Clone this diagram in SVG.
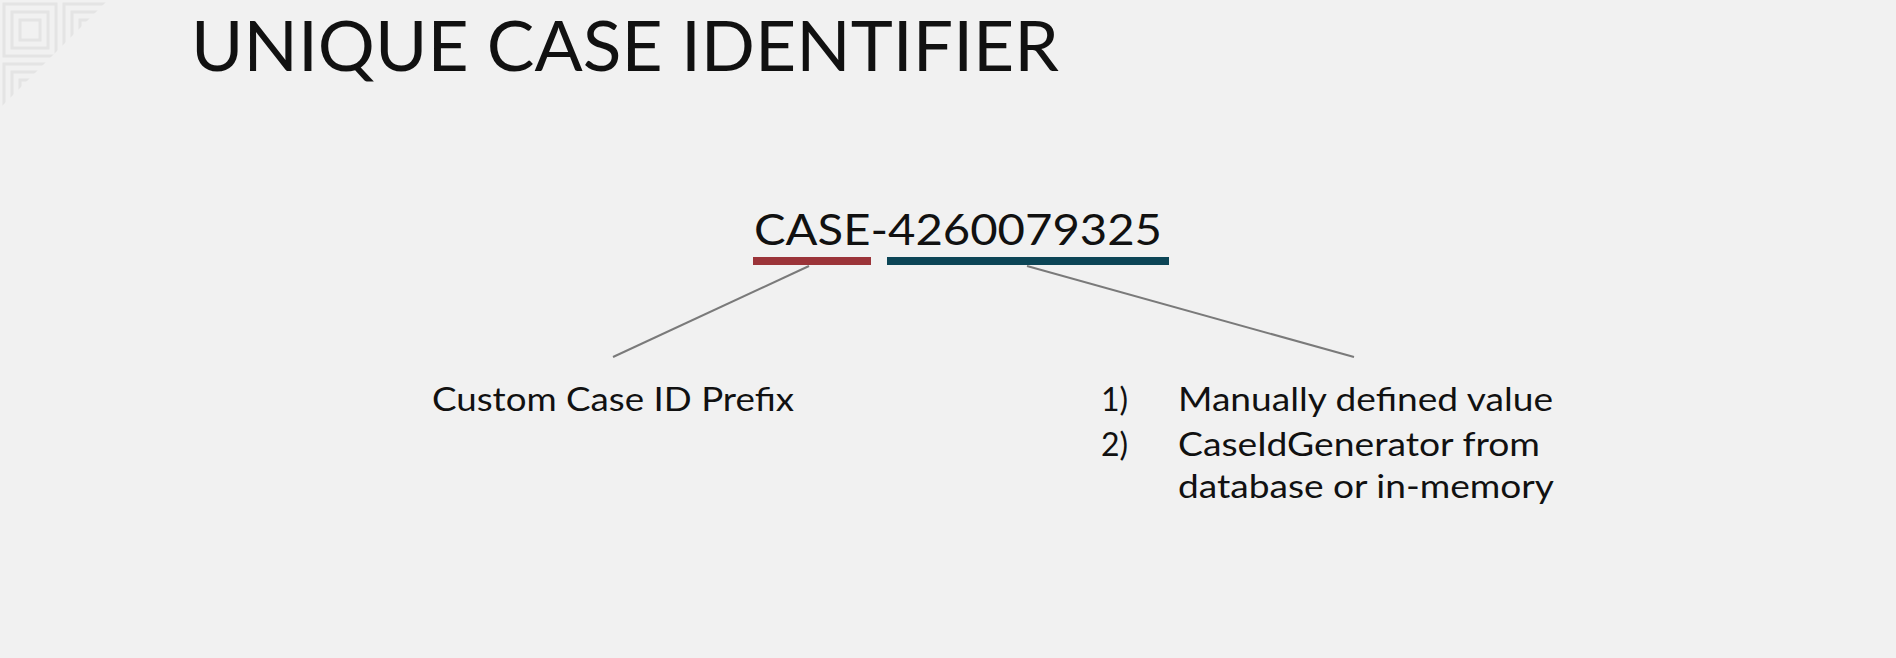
<svg xmlns="http://www.w3.org/2000/svg" width="1896" height="658" viewBox="0 0 1896 658">
<defs>
<style>
.t{font-family:Lato,"Liberation Sans",sans-serif;fill:#111;}
.conn{stroke:#7a7a7a;stroke-width:2;fill:none;}
.pat{stroke:#e4e4e4;stroke-width:3;fill:none;}
</style>
<clipPath id="corner"><polygon points="0,0 108,0 0,108"/></clipPath>
<pattern id="sq" x="0" y="0" width="60" height="60" patternUnits="userSpaceOnUse">
<rect x="4" y="4" width="52" height="52" class="pat"/>
<rect x="12" y="12" width="36" height="36" class="pat"/>
<rect x="20" y="20" width="20" height="20" class="pat"/>
</pattern>
</defs>
<rect width="1896" height="658" fill="#f1f1f1"/>
<g id="corner-pattern" clip-path="url(#corner)"><rect x="-10" y="-10" width="130" height="130" fill="url(#sq)"/></g>
<g id="title"><text class="t" x="191" y="71" font-size="70" textLength="868" lengthAdjust="spacingAndGlyphs">UNIQUE CASE IDENTIFIER</text></g>
<g id="case-id">
<text class="t" x="754" y="245" font-size="43" textLength="408" lengthAdjust="spacingAndGlyphs">CASE-4260079325</text>
<rect x="753" y="257" width="118" height="8" fill="#9b3439"/>
<rect x="887" y="257" width="282" height="8" fill="#0c4556"/>
</g>
<g id="connectors">
<line class="conn" x1="809" y1="266" x2="613" y2="357"/>
<line class="conn" x1="1027" y1="266" x2="1354" y2="357"/>
</g>
<g id="prefix-label"><text class="t" x="432" y="411" font-size="32" textLength="362" lengthAdjust="spacingAndGlyphs">Custom Case ID Prefix</text></g>
<g id="number-label">
<text class="t" x="1128" y="411" font-size="32" text-anchor="end">1)</text>
<text class="t" x="1128" y="456" font-size="32" text-anchor="end">2)</text>
<text class="t" x="1178" y="411" font-size="32" textLength="375" lengthAdjust="spacingAndGlyphs">Manually defined value</text>
<text class="t" x="1178" y="456" font-size="32" textLength="362" lengthAdjust="spacingAndGlyphs">CaseIdGenerator from</text>
<text class="t" x="1178" y="498" font-size="32" textLength="376" lengthAdjust="spacingAndGlyphs">database or in-memory</text>
</g>
</svg>
